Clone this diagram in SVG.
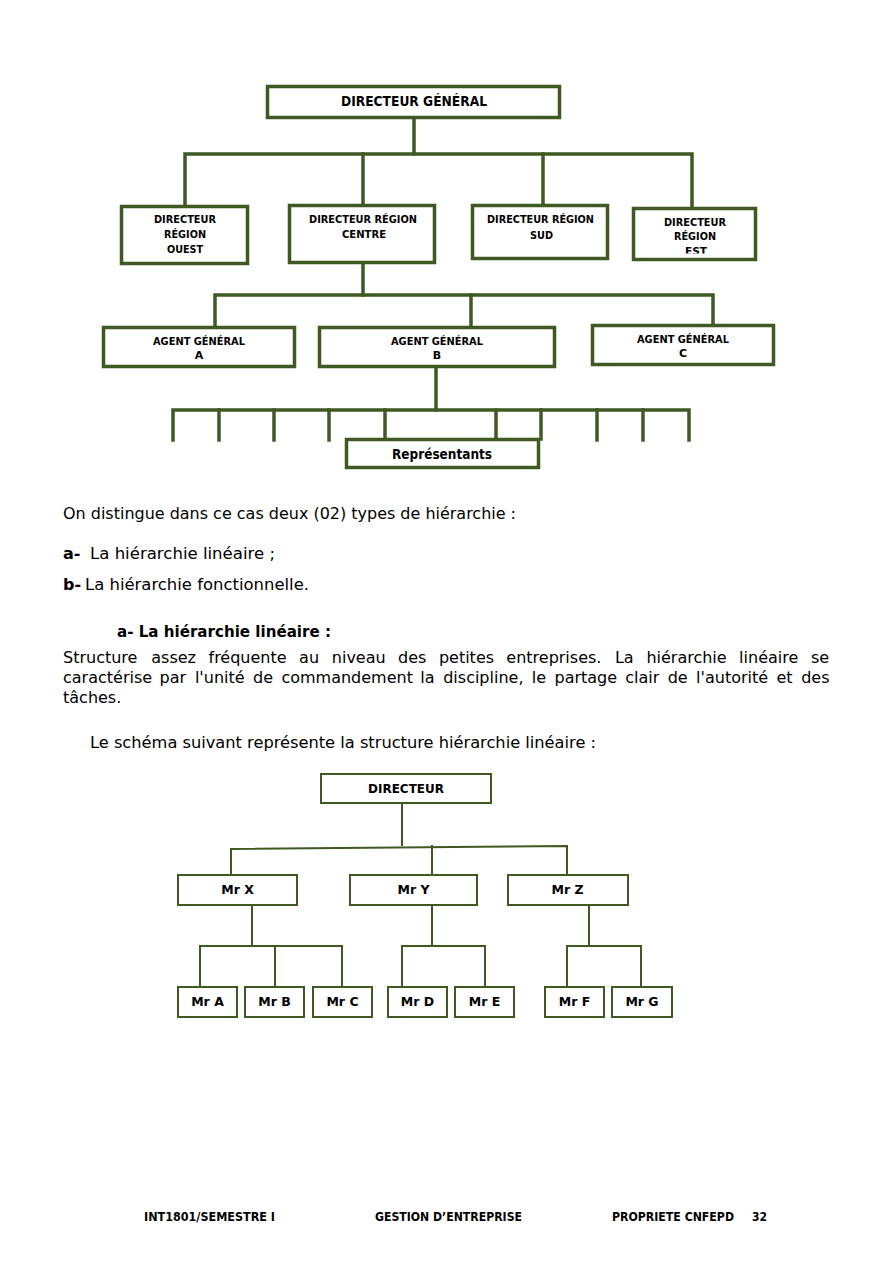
<svg xmlns="http://www.w3.org/2000/svg" width="893" height="1264" viewBox="0 0 893 1264">
<style>
.bg{fill:#ffffff}
.box1{fill:#ffffff;stroke:#3e5a22;stroke-width:3.5}
.box2{fill:#ffffff;stroke:#3e5a22;stroke-width:2}
.c1{fill:none;stroke:#3e5a22;stroke-width:3.5;stroke-linecap:square;stroke-linejoin:miter}
.c2{fill:none;stroke:#3e5a22;stroke-width:2;stroke-linecap:square;stroke-linejoin:miter}
.lb{font-family:"DejaVu Sans","Liberation Sans",sans-serif;font-weight:bold;fill:#000;text-anchor:middle}
.s11{font-size:11px}
.s13{font-size:13.5px}
.s12{font-size:12.5px}
.body{font-family:"DejaVu Sans","Liberation Sans",sans-serif;font-size:16px;fill:#000}
.b{font-weight:bold}
.foot{font-family:"DejaVu Sans","Liberation Sans",sans-serif;font-size:12px;font-weight:bold;fill:#000}
</style>
<defs>
<clipPath id="estClip"><rect x="633" y="208" width="123" height="45.5"/></clipPath>
</defs>
<rect class="bg" x="0" y="0" width="893" height="1264"/>

<g id="connectors-top">
<path class="c1" d="M414 119 V154"/>
<path class="c1" d="M185 205 V154 H692 V207"/>
<path class="c1" d="M363 154 V204"/>
<path class="c1" d="M543 154 V204"/>
<path class="c1" d="M363 264 V295"/>
<path class="c1" d="M215 326 V295 H713 V324"/>
<path class="c1" d="M471 295 V326"/>
<path class="c1" d="M436 368 V410"/>
<path class="c1" d="M173 440 V410 H689 V440"/>
<path class="c1" d="M219 410 V440"/>
<path class="c1" d="M274 410 V440"/>
<path class="c1" d="M329 410 V440"/>
<path class="c1" d="M385 410 V439"/>
<path class="c1" d="M496 410 V439"/>
<path class="c1" d="M541 410 V439"/>
<path class="c1" d="M597 410 V440"/>
<path class="c1" d="M643 410 V440"/>
</g>

<g id="n-dg"><rect class="box1" x="267.5" y="86.5" width="292" height="31"/><text class="lb s13" x="414" y="106" textLength="146" lengthAdjust="spacingAndGlyphs">DIRECTEUR GÉNÉRAL</text></g>
<g id="n-ouest"><rect class="box1" x="121.5" y="206.5" width="126" height="57"/>
<text class="lb s11" x="185" y="223" textLength="62" lengthAdjust="spacingAndGlyphs">DIRECTEUR</text>
<text class="lb s11" x="185" y="238" textLength="42" lengthAdjust="spacingAndGlyphs">RÉGION</text>
<text class="lb s11" x="185" y="253" textLength="36" lengthAdjust="spacingAndGlyphs">OUEST</text></g>
<g id="n-centre"><rect class="box1" x="289.5" y="205.5" width="145" height="57"/>
<text class="lb s11" x="363" y="223" textLength="108" lengthAdjust="spacingAndGlyphs">DIRECTEUR RÉGION</text>
<text class="lb s11" x="364" y="238" textLength="44" lengthAdjust="spacingAndGlyphs">CENTRE</text></g>
<g id="n-sud"><rect class="box1" x="472.5" y="205.5" width="135" height="53"/>
<text class="lb s11" x="540.5" y="223" textLength="107" lengthAdjust="spacingAndGlyphs">DIRECTEUR RÉGION</text>
<text class="lb s11" x="541.5" y="239" textLength="23" lengthAdjust="spacingAndGlyphs">SUD</text></g>
<g id="n-est"><rect class="box1" x="633.5" y="208.5" width="122" height="51" style="stroke:none"/>
<text class="lb s11" x="695" y="226" textLength="62" lengthAdjust="spacingAndGlyphs">DIRECTEUR</text>
<text class="lb s11" x="695" y="240" textLength="42" lengthAdjust="spacingAndGlyphs">RÉGION</text>
<text class="lb s11" x="696" y="255" textLength="22" lengthAdjust="spacingAndGlyphs" clip-path="url(#estClip)">EST</text>
<rect class="box1" x="633.5" y="208.5" width="122" height="51" style="fill:none"/></g>
<g id="n-agent-a"><rect class="box1" x="103.5" y="327.5" width="191" height="39"/>
<text class="lb s11" x="199" y="345" textLength="92" lengthAdjust="spacingAndGlyphs">AGENT GÉNÉRAL</text>
<text class="lb s11" x="199" y="359">A</text></g>
<g id="n-agent-b"><rect class="box1" x="319.5" y="327.5" width="235" height="39"/>
<text class="lb s11" x="437" y="345" textLength="92" lengthAdjust="spacingAndGlyphs">AGENT GÉNÉRAL</text>
<text class="lb s11" x="437" y="359">B</text></g>
<g id="n-agent-c"><rect class="box1" x="592.5" y="325.5" width="181" height="39"/>
<text class="lb s11" x="683" y="343" textLength="92" lengthAdjust="spacingAndGlyphs">AGENT GÉNÉRAL</text>
<text class="lb s11" x="683" y="357">C</text></g>
<g id="n-representants"><rect class="box1" x="346.5" y="439.5" width="192" height="28"/>
<text class="lb s13" x="442" y="459" textLength="100" lengthAdjust="spacingAndGlyphs">Représentants</text></g>

<g id="body-text" class="body">
<text x="63" y="519" textLength="453" lengthAdjust="spacingAndGlyphs">On distingue dans ce cas deux (02) types de hiérarchie :</text>
<text x="63" y="559"><tspan class="b">a-</tspan></text>
<text x="90" y="559" textLength="185" lengthAdjust="spacingAndGlyphs">La hiérarchie linéaire ;</text>
<text x="63" y="590"><tspan class="b">b-</tspan></text>
<text x="85" y="590" textLength="224" lengthAdjust="spacingAndGlyphs">La hiérarchie fonctionnelle.</text>
<text class="b" x="117" y="637" textLength="214" lengthAdjust="spacingAndGlyphs">a- La hiérarchie linéaire :</text>
<text y="663"><tspan x="63">Structure</tspan><tspan x="151.3">assez</tspan><tspan x="208.5">fréquente</tspan><tspan x="299.1">au</tspan><tspan x="331.8">niveau</tspan><tspan x="398.1">des</tspan><tspan x="438.9">petites</tspan><tspan x="506.3">entreprises.</tspan><tspan x="614.9">La</tspan><tspan x="646.4">hiérarchie</tspan><tspan x="739.1">linéaire</tspan><tspan x="810.9">se</tspan></text>
<text y="683"><tspan x="63">caractérise</tspan><tspan x="159.6">par</tspan><tspan x="194.9">l'unité</tspan><tspan x="253">de</tspan><tspan x="281.4">commandement</tspan><tspan x="420.3">la</tspan><tspan x="443.2">discipline,</tspan><tspan x="531.7">le</tspan><tspan x="554.5">partage</tspan><tspan x="625.2">clair</tspan><tspan x="667.7">de</tspan><tspan x="696.1">l'autorité</tspan><tspan x="776.5">et</tspan><tspan x="801.2">des</tspan></text>
<text x="63" y="703">tâches.</text>
<text x="90" y="748" textLength="506" lengthAdjust="spacingAndGlyphs">Le schéma suivant représente la structure hiérarchie linéaire :</text>
</g>

<g id="connectors-bottom">
<path class="c2" d="M402 804 V845"/>
<path class="c2" d="M231 875 V849 L567 846 V875"/>
<path class="c2" d="M432 875 V846"/>
<path class="c2" d="M252 905 V946"/>
<path class="c2" d="M200 987 V946 H342 V987"/>
<path class="c2" d="M275 946 V987"/>
<path class="c2" d="M432 905 V946"/>
<path class="c2" d="M402 987 V946 H485 V987"/>
<path class="c2" d="M589 905 V946"/>
<path class="c2" d="M567 987 V946 H641 V987"/>
</g>

<g id="n-directeur"><rect class="box2" x="321" y="774" width="170" height="29"/><text class="lb s12" x="406" y="793" textLength="76" lengthAdjust="spacingAndGlyphs">DIRECTEUR</text></g>
<g id="n-mrx"><rect class="box2" x="178" y="875" width="119" height="30"/><text class="lb s12" x="237.5" y="894">Mr X</text></g>
<g id="n-mry"><rect class="box2" x="350" y="875" width="127" height="30"/><text class="lb s12" x="413.5" y="894">Mr Y</text></g>
<g id="n-mrz"><rect class="box2" x="508" y="875" width="120" height="30"/><text class="lb s12" x="567.5" y="894">Mr Z</text></g>
<g id="n-mra"><rect class="box2" x="178" y="987" width="59" height="30"/><text class="lb s12" x="207.5" y="1006">Mr A</text></g>
<g id="n-mrb"><rect class="box2" x="245" y="987" width="59" height="30"/><text class="lb s12" x="274.5" y="1006">Mr B</text></g>
<g id="n-mrc"><rect class="box2" x="313" y="987" width="59" height="30"/><text class="lb s12" x="342.5" y="1006">Mr C</text></g>
<g id="n-mrd"><rect class="box2" x="388" y="987" width="59" height="30"/><text class="lb s12" x="417.5" y="1006">Mr D</text></g>
<g id="n-mre"><rect class="box2" x="455" y="987" width="59" height="30"/><text class="lb s12" x="484.5" y="1006">Mr E</text></g>
<g id="n-mrf"><rect class="box2" x="545" y="987" width="59" height="30"/><text class="lb s12" x="574.5" y="1006">Mr F</text></g>
<g id="n-mrg"><rect class="box2" x="612" y="987" width="60" height="30"/><text class="lb s12" x="642" y="1006">Mr G</text></g>

<g id="footer" class="foot">
<text x="144" y="1221" textLength="131" lengthAdjust="spacingAndGlyphs">INT1801/SEMESTRE I</text>
<text x="375" y="1221" textLength="147" lengthAdjust="spacingAndGlyphs">GESTION D’ENTREPRISE</text>
<text x="612" y="1221" textLength="122" lengthAdjust="spacingAndGlyphs">PROPRIETE CNFEPD</text>
<text x="752" y="1221" textLength="15" lengthAdjust="spacingAndGlyphs">32</text>
</g>
</svg>
